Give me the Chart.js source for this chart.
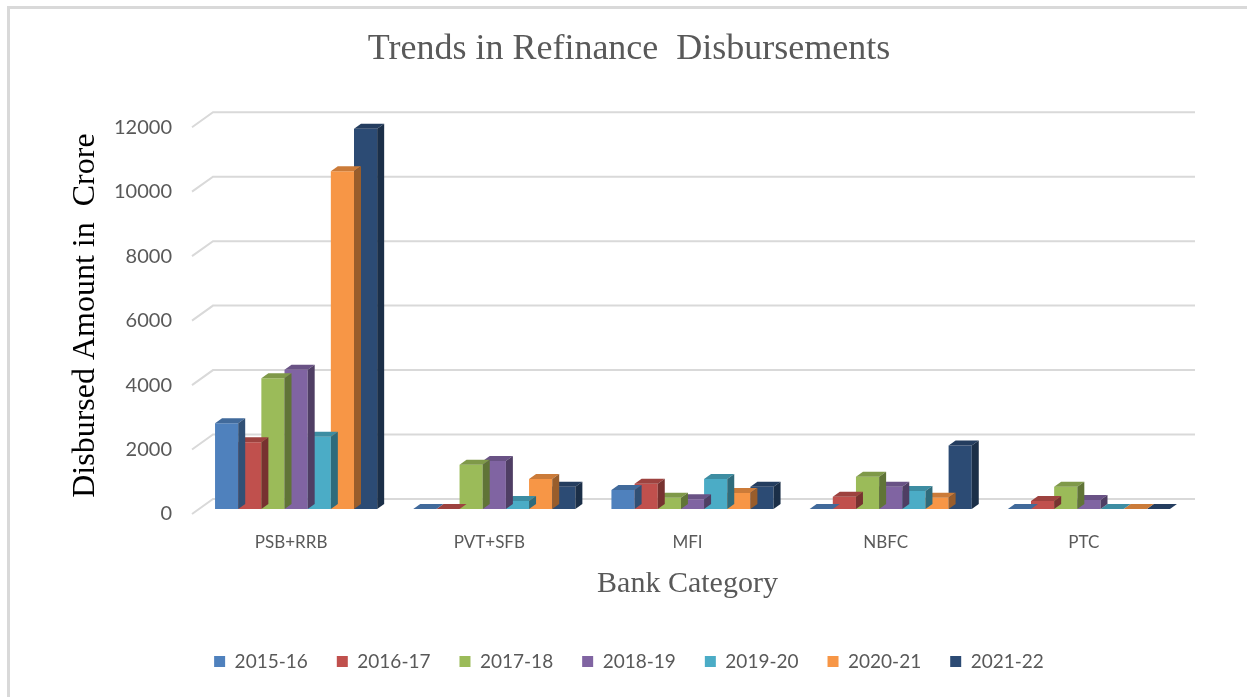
<!DOCTYPE html>
<html>
<head>
<meta charset="utf-8">
<script src="https://cdn.jsdelivr.net/npm/chart.js@4"></script>
<style>
  html, body { margin: 0; padding: 0; background: #ffffff; }
  #wrap { position: relative; width: 1247px; height: 697px; overflow: hidden; }
  #frame { position: absolute; left: 7px; top: 6px; width: 1300px; height: 800px;
           border-left: 3px solid #d9d9d9; border-top: 3px solid #d9d9d9; }
  canvas { position: absolute; left: 0; top: 0; }
</style>
</head>
<body>
<div id="wrap">
  <div id="frame"></div>
  <canvas id="c" width="1247" height="697"></canvas>
</div>
<script>
// ---- data ----
const categories = ['PSB+RRB', 'PVT+SFB', 'MFI', 'NBFC', 'PTC'];
const years = ['2015-16', '2016-17', '2017-18', '2018-19', '2019-20', '2020-21', '2021-22'];
const v2015_16 = [2660, 0, 590, 0, 0];
const v2016_17 = [2070, 0, 780, 380, 250];
const v2017_18 = [4060, 1370, 350, 1000, 690];
const v2018_19 = [4320, 1490, 300, 690, 280];
const v2019_20 = [2240, 250, 930, 560, 0];
const v2020_21 = [10480, 930, 500, 350, 0];
const v2021_22 = [11800, 690, 690, 1970, 0];
const yTicks = [0, 2000, 4000, 6000, 8000, 10000, 12000];

const seriesValues = [v2015_16, v2016_17, v2017_18, v2018_19, v2019_20, v2020_21, v2021_22];
const colors = ['#4F81BD', '#C0504D', '#9BBB59', '#8064A2', '#4BACC6', '#F79646', '#2C4B74'];

function shade(hex, f) {
  const n = parseInt(hex.slice(1), 16);
  const r = Math.round(((n >> 16) & 255) * f);
  const g = Math.round(((n >> 8) & 255) * f);
  const b = Math.round((n & 255) * f);
  return 'rgb(' + r + ',' + g + ',' + b + ')';
}

const DX = 7, DY = 5, SHIFT = 5;

// back wall grid with 3D side diagonal
const wallGrid = {
  id: 'wallGrid',
  beforeDatasetsDraw(chart) {
    const {ctx, chartArea, scales} = chart;
    const y = scales.y;
    ctx.save();
    ctx.strokeStyle = '#d9d9d9';
    ctx.lineWidth = 2;
    yTicks.forEach(t => {
      const p = y.getPixelForValue(t);
      ctx.beginPath();
      ctx.moveTo(chartArea.left, p + 5);
      ctx.lineTo(chartArea.left + 21, p - 10);
      ctx.lineTo(chartArea.right + 12, p - 10);
      ctx.stroke();
    });
    ctx.restore();
    // bars sit slightly deeper than the front plane
    ctx.save();
    ctx.translate(SHIFT, 0);
  },
  afterDatasetsDraw(chart) {
    chart.ctx.restore();
  }
};

// 3D tops and sides for bars
const bar3d = {
  id: 'bar3d',
  afterDatasetDraw(chart, args) {
    const {ctx} = chart;
    const meta = args.meta;
    const col = colors[args.index];
    ctx.save();
    meta.data.forEach(el => {
      const {x, y, base, width} = el.getProps(['x', 'y', 'base', 'width'], true);
      const l = x - width / 2, r = x + width / 2;
      ctx.fillStyle = shade(col, 0.82);
      ctx.beginPath();
      ctx.moveTo(l, y);
      ctx.lineTo(l + DX, y - DY);
      ctx.lineTo(r + DX, y - DY);
      ctx.lineTo(r, y);
      ctx.closePath();
      ctx.fill();
      ctx.fillStyle = shade(col, 0.62);
      ctx.beginPath();
      ctx.moveTo(r, y);
      ctx.lineTo(r + DX, y - DY);
      ctx.lineTo(r + DX, base - DY);
      ctx.lineTo(r, base);
      ctx.closePath();
      ctx.fill();
    });
    ctx.restore();
  }
};

const datasets = years.map((yr, i) => ({
  label: yr,
  data: seriesValues[i],
  backgroundColor: colors[i],
  borderWidth: 0,
  categoryPercentage: 0.818,
  barPercentage: 1.0
}));

new Chart(document.getElementById('c'), {
  type: 'bar',
  data: { labels: categories, datasets },
  plugins: [wallGrid, bar3d],
  options: {
    responsive: false,
    animation: false,
    layout: { padding: { left: 75, right: 64, top: 0, bottom: 16 } },
    plugins: {
      title: {
        display: true,
        text: 'Trends in Refinance  Disbursements',
        color: '#595959',
        font: { family: 'Liberation Serif', size: 36, weight: 'normal', lineHeight: 1.2 },
        padding: { top: 28, bottom: 51 }
      },
      legend: {
        position: 'bottom',
        labels: {
          boxWidth: 11, boxHeight: 11,
          color: '#595959',
          font: { family: 'Lato', size: 19 },
          padding: 29
        }
      },
      tooltip: { enabled: false }
    },
    scales: {
      x: {
        grid: { display: false },
        border: { display: false },
        ticks: { color: '#595959', font: { family: 'Lato', size: 17 }, padding: 15 },
        title: {
          display: true, text: 'Bank Category', color: '#595959',
          font: { family: 'Liberation Serif', size: 30, lineHeight: 1.2 },
          padding: { top: 0, bottom: 21 }
        },
        afterFit(s) { s.height = 114; }
      },
      y: {
        min: 0, max: 12000,
        grid: { display: false },
        border: { display: false },
        ticks: {
          stepSize: 2000, color: '#595959',
          font: { family: 'Lato', size: 20 },
          padding: 12, labelOffset: 5,
          callback: (v) => String(v)
        },
        title: {
          display: true, text: 'Disbursed Amount in  Crore', color: '#000000',
          font: { family: 'Liberation Serif', size: 32, lineHeight: 1.2 },
          padding: { top: -9, bottom: 0 }
        },
        afterFit(s) { s.width = 117; }
      }
    }
  }
});
</script>
</body>
</html>
